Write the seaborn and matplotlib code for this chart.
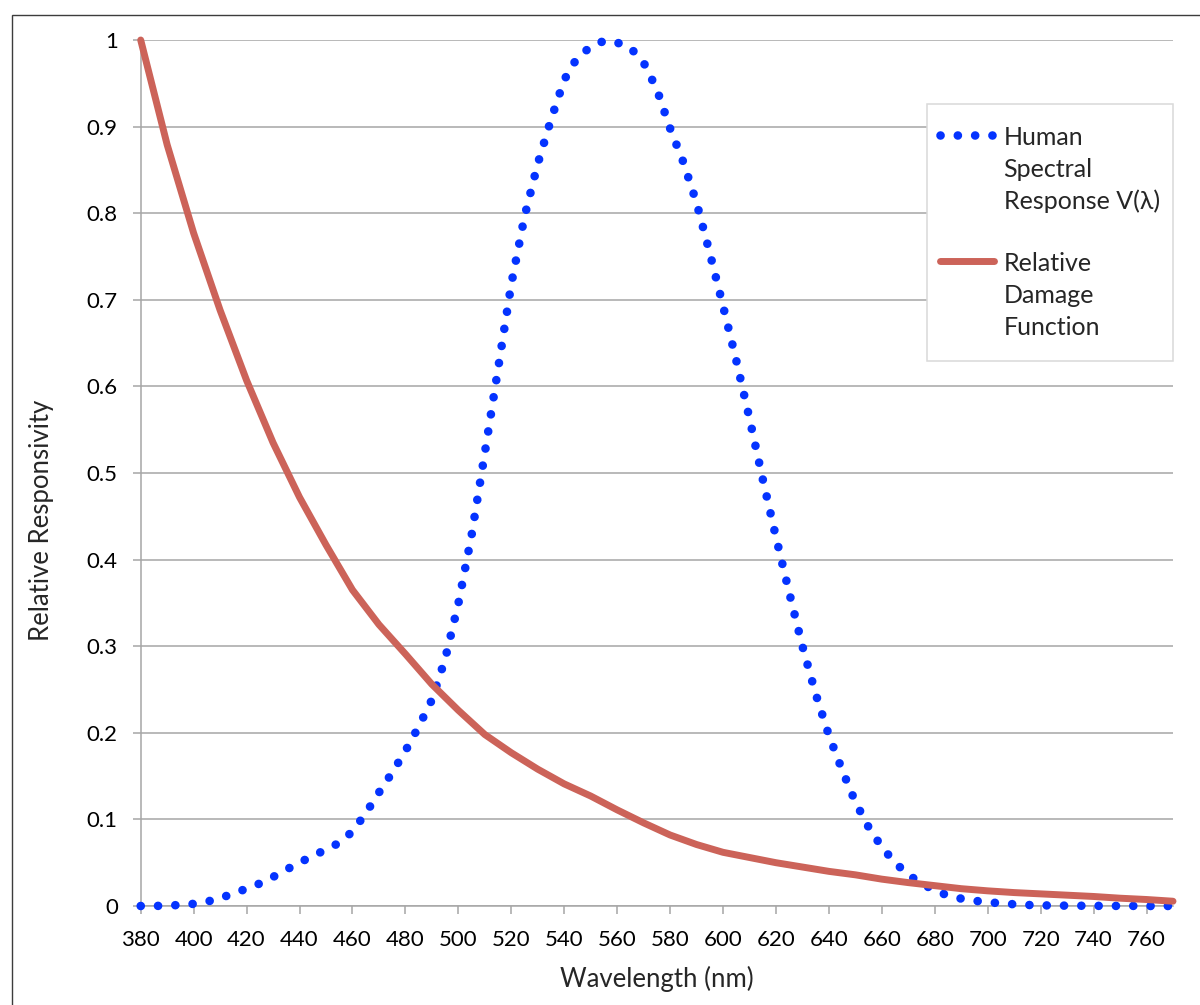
import numpy as np
import seaborn as sns
import matplotlib.pyplot as plt
from matplotlib.patches import Rectangle
from matplotlib.path import Path

# human spectral response V(lambda), read every 5 nm
wavelength = list(range(380, 775, 5))
v_lambda = [0.0, 0.0, 0.0005, 0.0012, 0.0025, 0.005, 0.009, 0.0145, 0.020, 0.026,
            0.0335, 0.042, 0.050, 0.058, 0.065, 0.073, 0.086, 0.107, 0.131, 0.154,
            0.179, 0.207, 0.238, 0.285, 0.349, 0.428, 0.523, 0.620, 0.718, 0.796,
            0.857, 0.908, 0.954, 0.980, 0.992, 0.999, 0.997, 0.991, 0.974, 0.943,
            0.898, 0.859, 0.812, 0.754, 0.693, 0.630, 0.563, 0.493, 0.426, 0.362,
            0.300, 0.245, 0.197, 0.157, 0.120, 0.091, 0.068, 0.050, 0.036, 0.026,
            0.018, 0.012, 0.0085, 0.006, 0.0045, 0.003, 0.002, 0.0012, 0.0008, 0.0005,
            0.0004, 0.0003, 0.0002, 0.0001, 0.0001, 0.0001, 0.0, 0.0, 0.0]

# relative damage function, read every 10 nm
damage_wl = list(range(380, 780, 10))
damage = [1.0, 0.879, 0.777, 0.688, 0.607, 0.535, 0.472, 0.417, 0.365, 0.325,
          0.291, 0.256, 0.226, 0.198, 0.177, 0.158, 0.141, 0.127, 0.111, 0.096,
          0.082, 0.071, 0.062, 0.056, 0.050, 0.045, 0.040, 0.036, 0.031, 0.027,
          0.0235, 0.020, 0.0175, 0.0155, 0.014, 0.0125, 0.011, 0.009, 0.0075, 0.0055]

x_ticks = list(range(380, 761, 20))
y_ticks = [0, 0.1, 0.2, 0.3, 0.4, 0.5, 0.6, 0.7, 0.8, 0.9, 1.0]
y_tick_labels = ['0', '0.1', '0.2', '0.3', '0.4', '0.5', '0.6', '0.7', '0.8', '0.9', '1']

sns.set_style("white")
plt.rcParams['font.family'] = ['Lato', 'DejaVu Sans']

grid_gray = '#A6A6A6'
tick_fs = 16
label_fs = 18.5
legend_fs = 18

fig = plt.figure(figsize=(12, 10.05), dpi=100)
ax = fig.add_axes([140.7 / 1200, 1 - 906 / 1005, (1173 - 140.7) / 1200, 866 / 1005])

# outer chart border
fig.add_artist(Rectangle((11.5 / 1200, -0.1), 1.2, 0.1 + 1 - 15 / 1005,
                         transform=fig.transFigure, fill=False,
                         edgecolor='#3C3C3C', lw=1.0))

sns.lineplot(x=wavelength, y=v_lambda, ax=ax, color='#0433FF', lw=6.2,
             linestyle=(0, (0.01, 2.0)), dash_capstyle='round',
             label='Human\nSpectral\nResponse V(λ)', clip_on=False, zorder=3)
sns.lineplot(x=damage_wl, y=damage, ax=ax, color='#CC6359', lw=5.0,
             solid_capstyle='round',
             label='Relative\nDamage\nFunction', clip_on=False, zorder=4)

ax.set_xlim(380, 770)
ax.set_ylim(0, 1)
ax.set_xticks(x_ticks)
ax.set_yticks(y_ticks)
ax.set_yticklabels(y_tick_labels)

ax.grid(axis='y', color=grid_gray, lw=1.1)
ax.grid(axis='x', visible=False)
ax.set_axisbelow(True)
for s in ['top', 'right']:
    ax.spines[s].set_visible(False)
for s in ['left', 'bottom']:
    ax.spines[s].set_color(grid_gray)
    ax.spines[s].set_linewidth(1.1)

ax.tick_params(axis='both', bottom=True, left=True, direction='out', length=5.5,
               width=1.1, color=grid_gray, labelsize=tick_fs, labelcolor='black')
ax.tick_params(axis='y', pad=11)
ax.tick_params(axis='x', pad=11.5)

ax.set_xlabel('Wavelength (nm)', fontsize=label_fs, va='center')
ax.xaxis.set_label_coords(0.5, (906 - 979) / 866)
ax.set_ylabel('Relative Responsivity', fontsize=label_fs, va='center', ha='center')
ax.yaxis.set_label_coords((42 - 140.7) / 1032.3, (906 - 520) / 866)


# legend frame with extra room above and below the entries only
def legend_frame(x0, y0, width, height, mutation_size):
    pad_y = 0.36 * mutation_size
    x1 = x0 + width
    y1 = y0 + height + pad_y
    y0 = y0 - pad_y
    return Path([(x0, y0), (x1, y0), (x1, y1), (x0, y1), (x0, y0)], closed=True)


leg = ax.legend(loc='upper left', bbox_to_anchor=(927 / 1200, 1 - 113 / 1005),
                bbox_transform=fig.transFigure, frameon=True, fancybox=False,
                framealpha=1, edgecolor='#D9D9D9', fontsize=legend_fs,
                borderpad=0.52, borderaxespad=0, handlelength=2.16,
                handletextpad=0.38, labelspacing=1.58)
leg.get_frame().set_linewidth(1.1)
leg.get_frame().set_boxstyle(legend_frame)
for t in leg.get_texts():
    t.set_linespacing(1.45)
# put each handle level with the first line of its label
for ln in leg.get_lines():
    ln.set_ydata(np.asarray(ln.get_ydata()) + 25.3)

fig.savefig('out.png', dpi=100)
